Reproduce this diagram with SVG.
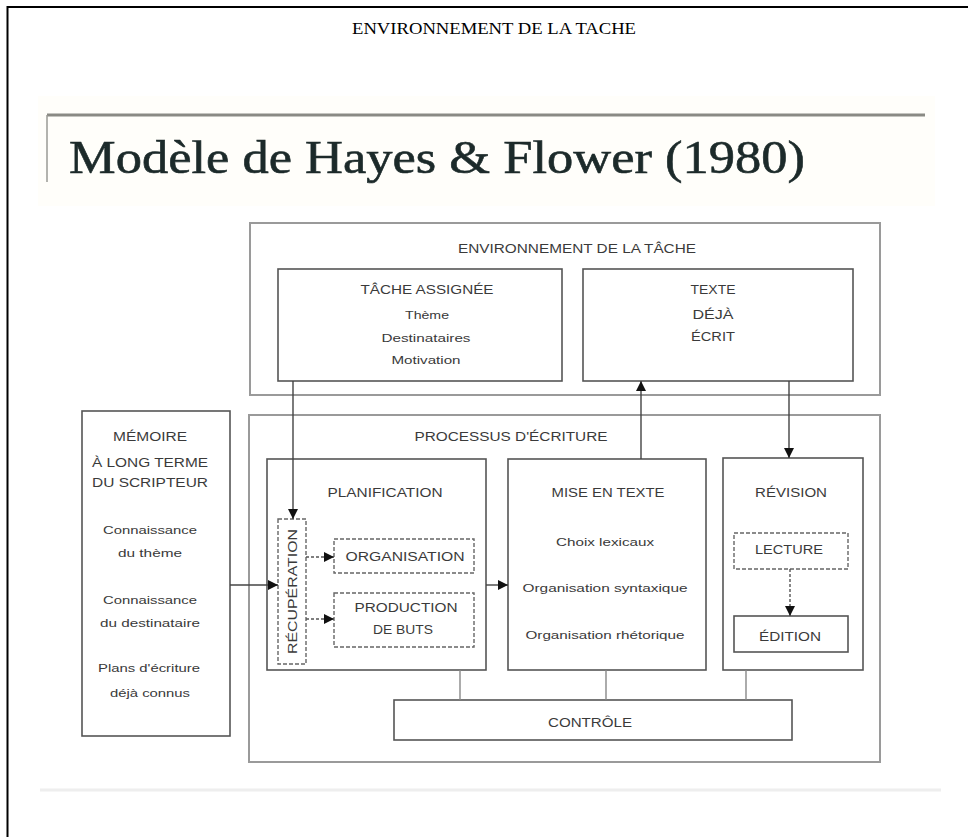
<svg xmlns="http://www.w3.org/2000/svg" width="968" height="837" viewBox="0 0 968 837">
<style>
  .frame{fill:none;stroke:#000;stroke-width:2}
  .pagetitle{font-family:"Liberation Serif","Times New Roman",serif;font-size:16.5px;fill:#000;text-anchor:middle}
  .slidetitle{font-family:"Liberation Serif",Georgia,serif;font-size:46px;fill:#1c2a2a;stroke:#1c2a2a;stroke-width:0.6}
  .outer{fill:none;stroke:#9a9a9a;stroke-width:2}
  .box{fill:#fff;stroke:#555;stroke-width:1.6}
  .dbox{fill:#fff;stroke:#666;stroke-width:1.4;stroke-dasharray:4 2}
  .t{font-family:"Liberation Sans",Arial,sans-serif;font-size:12.5px;fill:#3a3a3a;text-anchor:middle}
  .s{font-family:"Liberation Sans",Arial,sans-serif;font-size:11.5px;fill:#3a3a3a;text-anchor:middle}
  .ln{fill:none;stroke:#444;stroke-width:1.4}
  .dl{fill:none;stroke:#555;stroke-width:1.4;stroke-dasharray:3 2}
  .cl{fill:none;stroke:#888;stroke-width:1.4}
</style>
<defs>
  <marker id="ah" viewBox="0 0 10 10" refX="10" refY="5" markerWidth="10" markerHeight="10" markerUnits="userSpaceOnUse" orient="auto">
    <path d="M0,0 L10,5 L0,10 Z" fill="#111"/>
  </marker>
</defs>
<rect width="968" height="837" fill="#fff"/>
<!-- page frame -->
<path class="frame" d="M7.5,837 V7 H968"/>
<text class="pagetitle" x="494" y="34" textLength="284" lengthAdjust="spacingAndGlyphs">ENVIRONNEMENT DE LA TACHE</text>

<!-- slide -->
<rect x="38" y="96" width="897" height="110" fill="#fffefa"/>
<line x1="47" y1="115" x2="925" y2="115" stroke="#8a8a84" stroke-width="3"/>
<line x1="47" y1="115" x2="47" y2="182" stroke="#9a9a94" stroke-width="1.5"/>
<line x1="40" y1="790" x2="941" y2="790" stroke="#eeeeee" stroke-width="3"/>
<text class="slidetitle" x="69" y="173" textLength="736" lengthAdjust="spacingAndGlyphs">Modèle de Hayes &amp; Flower (1980)</text>

<g id="env">
  <rect class="outer" x="250" y="223" width="630" height="172"/>
  <text class="t" x="577" y="253" textLength="238" lengthAdjust="spacingAndGlyphs">ENVIRONNEMENT DE LA TÂCHE</text>
</g>
<g id="tache">
  <rect class="box" x="278" y="269" width="284" height="112"/>
  <text class="t" x="427" y="294" textLength="133" lengthAdjust="spacingAndGlyphs">TÂCHE ASSIGNÉE</text>
  <text class="s" x="427" y="319" textLength="44" lengthAdjust="spacingAndGlyphs">Thème</text>
  <text class="s" x="426" y="342" textLength="89" lengthAdjust="spacingAndGlyphs">Destinataires</text>
  <text class="s" x="426" y="364" textLength="69" lengthAdjust="spacingAndGlyphs">Motivation</text>
</g>
<g id="texte">
  <rect class="box" x="583" y="269" width="270" height="112"/>
  <text class="t" x="713" y="294" textLength="45" lengthAdjust="spacingAndGlyphs">TEXTE</text>
  <text class="t" x="713" y="319" textLength="41" lengthAdjust="spacingAndGlyphs">DÉJÀ</text>
  <text class="t" x="713" y="341" textLength="44" lengthAdjust="spacingAndGlyphs">ÉCRIT</text>
</g>
<g id="memoire">
  <rect class="box" x="82" y="411" width="148" height="325"/>
  <text class="t" x="150" y="441" textLength="74" lengthAdjust="spacingAndGlyphs">MÉMOIRE</text>
  <text class="t" x="150" y="467" textLength="116" lengthAdjust="spacingAndGlyphs">À LONG TERME</text>
  <text class="t" x="150" y="487" textLength="116" lengthAdjust="spacingAndGlyphs">DU SCRIPTEUR</text>
  <text class="s" x="150" y="534" textLength="94" lengthAdjust="spacingAndGlyphs">Connaissance</text>
  <text class="s" x="150" y="557" textLength="64" lengthAdjust="spacingAndGlyphs">du thème</text>
  <text class="s" x="150" y="604" textLength="94" lengthAdjust="spacingAndGlyphs">Connaissance</text>
  <text class="s" x="150" y="627" textLength="100" lengthAdjust="spacingAndGlyphs">du destinataire</text>
  <text class="s" x="149" y="672" textLength="102" lengthAdjust="spacingAndGlyphs">Plans d'écriture</text>
  <text class="s" x="150" y="697" textLength="80" lengthAdjust="spacingAndGlyphs">déjà connus</text>
</g>
<g id="processus">
  <rect class="outer" x="249" y="415" width="631" height="347"/>
  <text class="t" x="511" y="441" textLength="193" lengthAdjust="spacingAndGlyphs">PROCESSUS D'ÉCRITURE</text>
</g>
<g id="planification">
  <rect class="box" x="267" y="459" width="219" height="211"/>
  <text class="t" x="385" y="497" textLength="115" lengthAdjust="spacingAndGlyphs">PLANIFICATION</text>
</g>
<g id="recuperation">
  <rect class="dbox" x="278" y="519" width="28" height="145"/>
  <text class="t" x="0" y="0" transform="translate(296.5,591.5) rotate(-90)" textLength="125" lengthAdjust="spacingAndGlyphs">RÉCUPÉRATION</text>
</g>
<g id="organisation">
  <rect class="dbox" x="334" y="539" width="140" height="34"/>
  <text class="t" x="405" y="561" textLength="119" lengthAdjust="spacingAndGlyphs">ORGANISATION</text>
</g>
<g id="production">
  <rect class="dbox" x="334" y="593" width="140" height="54"/>
  <text class="t" x="406" y="612" textLength="103" lengthAdjust="spacingAndGlyphs">PRODUCTION</text>
  <text class="t" x="403" y="634" textLength="60" lengthAdjust="spacingAndGlyphs">DE BUTS</text>
</g>
<g id="miseentexte">
  <rect class="box" x="508" y="459" width="198" height="211"/>
  <text class="t" x="608" y="497" textLength="113" lengthAdjust="spacingAndGlyphs">MISE EN TEXTE</text>
  <text class="s" x="605" y="546" textLength="98" lengthAdjust="spacingAndGlyphs">Choix lexicaux</text>
  <text class="s" x="605" y="592" textLength="165" lengthAdjust="spacingAndGlyphs">Organisation syntaxique</text>
  <text class="s" x="605" y="639" textLength="159" lengthAdjust="spacingAndGlyphs">Organisation rhétorique</text>
</g>
<g id="revision">
  <rect class="box" x="723" y="458" width="140" height="212"/>
  <text class="t" x="791" y="497" textLength="72" lengthAdjust="spacingAndGlyphs">RÉVISION</text>
</g>
<g id="lecture">
  <rect class="dbox" x="734" y="533" width="114" height="36"/>
  <text class="t" x="789" y="554" textLength="68" lengthAdjust="spacingAndGlyphs">LECTURE</text>
</g>
<g id="edition">
  <rect class="box" x="734" y="616" width="114" height="36"/>
  <text class="t" x="790" y="641" textLength="62" lengthAdjust="spacingAndGlyphs">ÉDITION</text>
</g>
<g id="controle">
  <rect class="box" x="394" y="700" width="398" height="40"/>
  <text class="t" x="590" y="727" textLength="84" lengthAdjust="spacingAndGlyphs">CONTRÔLE</text>
</g>

<g id="connectors">
  <line class="ln" x1="293" y1="381" x2="293" y2="519" marker-end="url(#ah)"/>
  <line class="ln" x1="230" y1="585" x2="278" y2="585" marker-end="url(#ah)"/>
  <line class="dl" x1="306" y1="557" x2="334" y2="557" marker-end="url(#ah)"/>
  <line class="dl" x1="306" y1="619" x2="334" y2="619" marker-end="url(#ah)"/>
  <line class="ln" x1="486" y1="585" x2="508" y2="585" marker-end="url(#ah)"/>
  <line class="ln" x1="641" y1="459" x2="641" y2="381" marker-end="url(#ah)"/>
  <line class="ln" x1="789" y1="381" x2="789" y2="458" marker-end="url(#ah)"/>
  <line class="dl" x1="790" y1="569" x2="790" y2="616" marker-end="url(#ah)"/>
  <line class="cl" x1="460" y1="670" x2="460" y2="700"/>
  <line class="cl" x1="606" y1="670" x2="606" y2="700"/>
  <line class="cl" x1="746" y1="670" x2="746" y2="700"/>
</g>
</svg>
